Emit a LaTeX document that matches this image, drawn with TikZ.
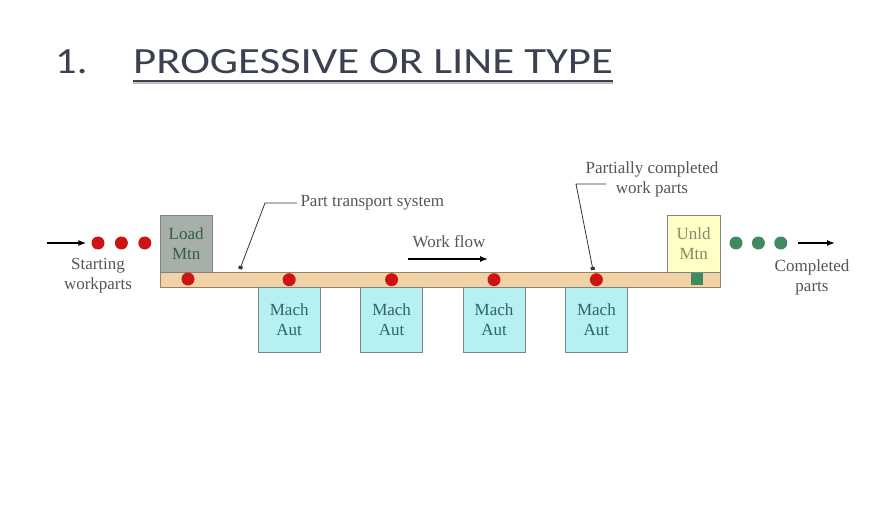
\documentclass[tikz,border=0pt]{standalone}
\usepackage{fontspec}
\setmainfont{Liberation Serif}
\newfontfamily\titlefont{Carlito}
\usetikzlibrary{positioning,arrows.meta}

\definecolor{titleink}{HTML}{3B4150}
\definecolor{barfill}{HTML}{F0D2A6}
\definecolor{barline}{HTML}{9A8064}
\definecolor{loadfill}{HTML}{A8AEA8}
\definecolor{loadink}{HTML}{2F5F45}
\definecolor{unldfill}{HTML}{FFFFC6}
\definecolor{unldink}{HTML}{8A8868}
\definecolor{machfill}{HTML}{B6F0F0}
\definecolor{machink}{HTML}{2E6464}
\definecolor{boxline}{HTML}{7C8484}
\definecolor{partred}{HTML}{CC1414}
\definecolor{partgreen}{HTML}{3F8A5E}
\definecolor{labelink}{HTML}{555555}

\begin{document}
\begin{tikzpicture}[
  x=1pt, y=-1pt,
  every node/.style={font=\fontsize{17}{20}\selectfont, align=center, text=labelink},
  station/.style={draw=boxline, fill=machfill, text=machink,
    minimum width=62pt, minimum height=65pt, anchor=north west},
  loadbox/.style={draw=boxline, fill=loadfill, text=loadink,
    minimum width=52pt, minimum height=57pt},
  unldbox/.style={draw=boxline, fill=unldfill, text=unldink,
    minimum width=53pt, minimum height=57pt},
  conveyor/.style={draw=barline, fill=barfill, minimum width=560pt,
    minimum height=15pt, anchor=north west, inner sep=0pt},
  redpart/.style={circle, fill=partred, draw=none, minimum size=13pt, inner sep=0pt},
  donepart/.style={circle, fill=partgreen, draw=none, minimum size=13pt, inner sep=0pt},
  donebox/.style={rectangle, fill=partgreen, draw=none, minimum size=12pt, inner sep=0pt},
  titletext/.style={font=\titlefont\fontsize{37}{40}\selectfont, text=titleink,
    anchor=base west, inner sep=0pt},
  flow/.style={-{Latex[length=8pt,width=6pt]}, line width=1.4pt, black},
  leader/.style={-{Square[length=3pt,width=4pt]}, line width=0.8pt, black!80}
]
\useasboundingbox (0,0) rectangle (892,516);

\node[titletext] (num) at (55,74) {\scalebox{1.15}[1]{1.}};
\node[titletext] (ttl) at (133,74) {\scalebox{1.21}[1]{PROGESSIVE OR LINE TYPE}};
\draw[line width=2.5pt, black!25] ([yshift=-9pt]ttl.base west) -- ([yshift=-9pt]ttl.base east);
\draw[line width=1.6pt, titleink] ([yshift=-7pt]ttl.base west) -- ([yshift=-7pt]ttl.base east);

\node (bar) [conveyor] at (160,272) {};

\node (load) [loadbox, anchor=south west] at (bar.north west) {Load\\Mtn};
\node (unld) [unldbox, anchor=south east] at (bar.north east) {Unld\\Mtn};

\node (m1) [station] at (258,287) {Mach\\Aut};
\node (m2) [station, right=40pt of m1] {Mach\\Aut};
\node (m3) [station, right=40pt of m2] {Mach\\Aut};
\node (m4) [station, right=40pt of m3] {Mach\\Aut};

\node[redpart] (d0) at (188,279) {};
\node[redpart] (d1) at (m1.north |- bar.center) {};
\node[redpart] (d2) at (m2.north |- bar.center) {};
\node[redpart] (d3) at (m3.north |- bar.center) {};
\node[redpart] (d4) at (m4.north |- bar.center) {};
\node[donebox] (g0) at (697,279) {};

\node[redpart] (s1) at (98,243) {};
\node[redpart] (s2) [right=10pt of s1] {};
\node[redpart] (s3) [right=10pt of s2] {};
\node (start) at (98,276) {Starting\\workparts};

\node[donepart] (c1) at (736,243) {};
\node[donepart] (c2) [right=9pt of c1] {};
\node[donepart] (c3) [right=9pt of c2] {};
\node (done) at (812,277) {Completed\\parts};

\coordinate (in) at (47,243);
\coordinate (out) at (835,243);
\draw[flow, shorten >=5pt] (in) -- (s1);
\draw[flow, shorten <=10pt] (c3) -- (out);

\node (wflow) at (449,242) {Work flow};
\coordinate (wfa) at (408,259);
\coordinate (wfb) at (488,259);
\draw[flow] (wfa) -- (wfb);

\node (pts) [anchor=west] at (297,203) {Part transport system};
\coordinate (ptsbend) at (265,203);
\coordinate (ptstip) at (240,269);
\draw[leader] (pts.west) -- (ptsbend) -- (ptstip);

\node (pcw) at (652,179) {Partially completed\\work parts};
\coordinate (pcwa) at (606,184);
\coordinate (pcwbend) at (576,184);
\coordinate (pcwtip) at (593,270);
\draw[leader] (pcwa) -- (pcwbend) -- (pcwtip);

\end{tikzpicture}
\end{document}
